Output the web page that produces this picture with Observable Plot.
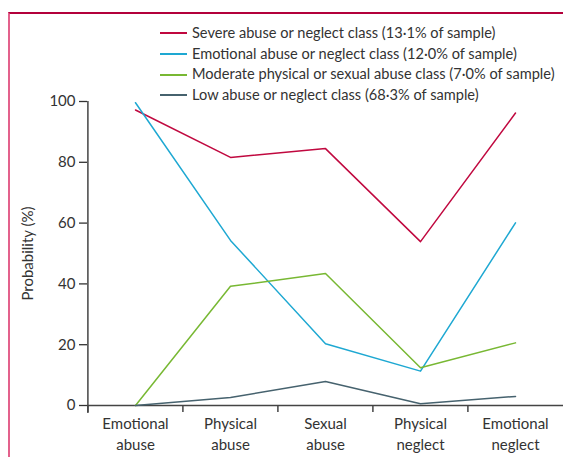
<!DOCTYPE html>
<html>
<head>
<meta charset="utf-8">
<script src="https://cdn.jsdelivr.net/npm/d3@7"></script>
<script src="https://cdn.jsdelivr.net/npm/@observablehq/plot@0.6"></script>
<style>
  html, body { margin: 0; padding: 0; background: #fff; }
  #wrap { position: relative; width: 563px; height: 457px; overflow: hidden; font-family: Lato, "Open Sans", sans-serif; color: #333; }
  #chart { position: absolute; left: 0; top: 0; }
  #frame { position: absolute; left: 8px; top: 12px; width: 600px; height: 500px; border-top: 2px solid #b3003b; border-left: 2px solid #e3618c; box-sizing: border-box; pointer-events: none; }
  #legend { position: absolute; left: 160px; top: 23px; font-size: 14.6px; line-height: 20.7px; }
  .row { display: flex; align-items: center; height: 20.7px; white-space: nowrap; }
  .swatch { width: 27px; height: 0; border-top: 2px solid; margin-right: 5px; }
</style>
</head>
<body>
<div id="wrap">
  <div id="chart"></div>
  <div id="frame"></div>
  <div id="legend"></div>
</div>
<script>
const categories = ["Emotional abuse", "Physical abuse", "Sexual abuse", "Physical neglect", "Emotional neglect"];
const tickLabels = ["Emotional\nabuse", "Physical\nabuse", "Sexual\nabuse", "Physical\nneglect", "Emotional\nneglect"];
const seriesNames = [
  "Severe abuse or neglect class (13·1% of sample)",
  "Emotional abuse or neglect class (12·0% of sample)",
  "Moderate physical or sexual abuse class (7·0% of sample)",
  "Low abuse or neglect class (68·3% of sample)"
];
const seriesColors = ["#c0083f", "#1ea8d2", "#78b833", "#46626e"];
const severe = [97.2, 81.6, 84.5, 53.9, 96.2];
const emotional = [99.6, 54.3, 20.3, 11.3, 60.1];
const moderate = [0, 39.2, 43.4, 12.4, 20.6];
const low = [0, 2.6, 7.9, 0.6, 3.0];
const yTicks = [0, 20, 40, 60, 80, 100];

const values = [severe, emotional, moderate, low];
const data = seriesNames.flatMap((s, si) => categories.map((c, ci) => ({series: s, cat: c, value: values[si][ci]})));

const W = 563, H = 457, ML = 87, MR = 0;
const step = (W - ML - MR) / categories.length;

const chart = Plot.plot({
  width: W,
  height: H,
  marginLeft: ML,
  marginRight: MR,
  marginTop: 101,
  marginBottom: 52,
  style: {fontFamily: "Lato, 'Open Sans', sans-serif", fontSize: "15px", color: "#333", background: "transparent"},
  x: {type: "point", domain: categories, padding: 0.5, align: 0.5},
  y: {domain: [0, 100]},
  color: {domain: seriesNames, range: seriesColors},
  marks: [
    Plot.axisY({ticks: yTicks, tickSize: 8, tickPadding: 4, label: "Probability (%)", labelAnchor: "center", labelArrow: false, labelOffset: 65, strokeWidth: 1.3}),
    Plot.axisX({tickSize: 0, tickPadding: 9, tickFormat: (d) => tickLabels[categories.indexOf(d)], lineHeight: 1.4, label: null}),
    Plot.ruleY([0], {stroke: "#444", strokeWidth: 1.5}),
    Plot.ruleX(categories.slice(0, 1), {y1: 100, y2: 0, insetBottom: -8, dx: -step / 2, stroke: "#444", strokeWidth: 1.5}),
    Plot.ruleX(categories, {y1: 0, y2: 0, insetBottom: -7, dx: -step / 2, stroke: "#444", strokeWidth: 1.5}),
    Plot.line(data, {x: "cat", y: "value", z: "series", stroke: "series", strokeWidth: 1.5})
  ]
});
document.getElementById("chart").appendChild(chart);

const legend = document.getElementById("legend");
seriesNames.forEach((name, i) => {
  const row = document.createElement("div");
  row.className = "row";
  const sw = document.createElement("span");
  sw.className = "swatch";
  sw.style.borderColor = seriesColors[i];
  const t = document.createElement("span");
  t.textContent = name;
  row.appendChild(sw);
  row.appendChild(t);
  legend.appendChild(row);
});
</script>
</body>
</html>
